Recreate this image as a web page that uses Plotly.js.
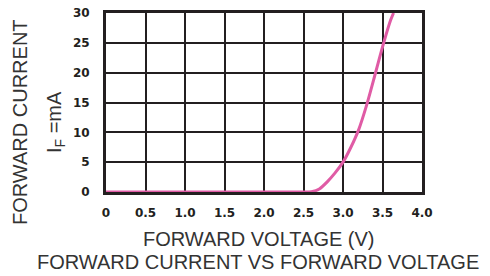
<!DOCTYPE html>
<html>
<head>
<meta charset="utf-8">
<script src="https://cdn.plot.ly/plotly-3.0.1.min.js"></script>
<style>html,body{margin:0;padding:0;background:#fff;}#chart{width:490px;height:276px;}</style>
</head>
<body>
<div id="chart"></div>
<script>
var voltage = [0, 2.5, 2.6, 2.7, 2.8, 2.9, 3.0, 3.1, 3.2, 3.3, 3.4, 3.5, 3.6, 3.64];
var current = [0, 0, 0.05, 0.5, 1.7, 3.2, 5.0, 7.5, 10.5, 14.6, 19.4, 24.3, 28.7, 30];
var xTicks = [0, 0.5, 1.0, 1.5, 2.0, 2.5, 3.0, 3.5, 4.0];
var xTickText = ['0', '0.5', '1.0', '1.5', '2.0', '2.5', '3.0', '3.5', '4.0'];
var yTicks = [0, 5, 10, 15, 20, 25, 30];

var ink = '#231f20';
var tickFont = {family: 'DejaVu Sans', size: 12, color: ink, weight: 'bold'};
var titleFont = {family: 'Liberation Sans, Arial, sans-serif', size: 20, color: '#333333'};

var trace = {
  x: voltage, y: current, type: 'scatter', mode: 'lines',
  line: {color: '#e05ba5', width: 3, shape: 'spline', smoothing: 0.6},
  hoverinfo: 'skip', cliponaxis: true
};

var layout = {
  width: 490, height: 276,
  margin: {l: 106, r: 68, t: 13, b: 84},
  paper_bgcolor: '#ffffff', plot_bgcolor: '#ffffff',
  showlegend: false,
  xaxis: {
    range: [0, 4], tickvals: xTicks, ticktext: xTickText,
    showgrid: true, gridcolor: ink, gridwidth: 2,
    showline: true, linecolor: ink, linewidth: 3, mirror: true,
    zeroline: false, ticks: '', tickfont: tickFont, ticklabelstandoff: 8,
    fixedrange: true
  },
  yaxis: {
    range: [0, 30], tickvals: yTicks,
    showgrid: true, gridcolor: ink, gridwidth: 2,
    showline: true, linecolor: ink, linewidth: 3, mirror: true,
    zeroline: false, ticks: '', tickfont: tickFont, ticklabelstandoff: 11,
    fixedrange: true
  },
  annotations: [
    {text: 'FORWARD CURRENT', xref: 'paper', yref: 'paper', x: 0, y: 0, showarrow: false,
     textangle: -90, font: titleFont, xanchor: 'center', yanchor: 'middle',
     xshift: -86, yshift: 0},
    {text: 'I<sub>F</sub> =mA', xref: 'paper', yref: 'paper', x: 0, y: 0, showarrow: false,
     textangle: -90, font: titleFont, xanchor: 'center', yanchor: 'middle',
     xshift: -51, yshift: 0},
    {text: 'FORWARD VOLTAGE (V)', xref: 'paper', yref: 'paper', x: 0, y: 0, showarrow: false,
     font: titleFont, xanchor: 'center', yanchor: 'middle', xshift: 0, yshift: 0},
    {text: 'FORWARD CURRENT VS FORWARD VOLTAGE', xref: 'paper', yref: 'paper', x: 0, y: 0, showarrow: false,
     font: titleFont, xanchor: 'center', yanchor: 'middle', xshift: 0, yshift: 0}
  ]
};

// position annotations in pixel terms relative to the plot area
var plotW = 490 - 106 - 68, plotH = 276 - 13 - 84;
function px(xp) { return (xp - 106) / plotW; }
function py(yp) { return (276 - 84 - yp) / plotH; }
layout.annotations[0].x = px(20); layout.annotations[0].y = py(122); layout.annotations[0].xshift = 0;
layout.annotations[1].x = px(55); layout.annotations[1].y = py(122); layout.annotations[1].xshift = 0;
layout.annotations[2].x = px(259); layout.annotations[2].y = py(239);
layout.annotations[3].x = px(258); layout.annotations[3].y = py(262);

Plotly.newPlot('chart', [trace], layout, {displayModeBar: false, staticPlot: true});
</script>
</body>
</html>
